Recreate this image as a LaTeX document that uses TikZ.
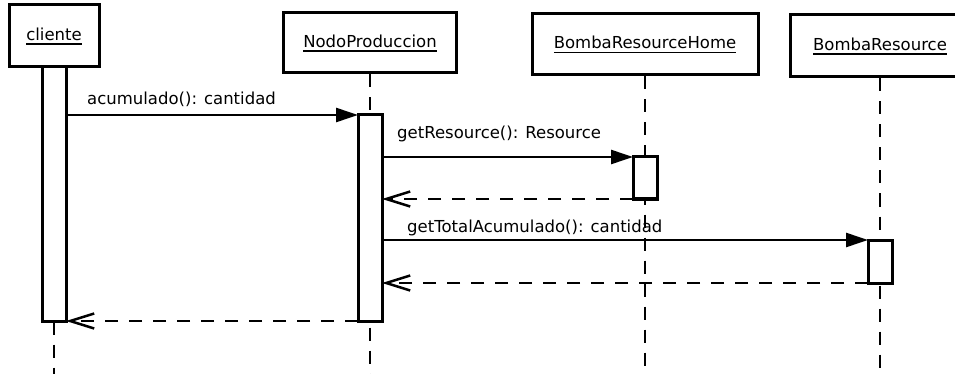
\documentclass[tikz,border=0pt]{standalone}
\usepackage{fontspec}
\setmainfont{DejaVu Sans}
\usetikzlibrary{arrows.meta}

% underlined object name
\newcommand{\objname}[1]{\setbox0=\hbox{#1}\copy0\llap{\rule[-4.5pt]{\wd0}{1.3pt}}}

\tikzset{
    objbox/.style={draw, line width=3pt, fill=white, inner sep=0pt},
    actbar/.style={draw, line width=3pt, fill=white, minimum width=24pt, inner sep=0pt, outer sep=0pt},
    lifeline/.style={line width=1.5pt, dash pattern=on 13pt off 10pt},
    call/.style={line width=2.5pt, -{Triangle[length=22pt,width=14pt]}},
    reply/.style={line width=2.5pt, dash pattern=on 13pt off 11pt, -{Straight Barb[length=24pt,width=15pt]}},
    msg/.style={anchor=base west, inner sep=0pt},
}

\begin{document}
\begin{tikzpicture}[x=1pt, y=-1pt, font=\fontsize{16.5}{20}\selectfont]
    \useasboundingbox (0,0) rectangle (955,374);
    \clip (0,0) rectangle (955,374);
    \coordinate (bottom) at (0,374);

    % Objetos
    \foreach \n/\x/\y/\w/\h/\t in {cliente/54/36/90/62/cliente,
        nodo/370/43/173/60/NodoProduccion,
        home/645/44.5/226/61/BombaResourceHome,
        bomba/880/46/180/62/BombaResource} {
        \node[objbox, minimum width=\w pt, minimum height=\h pt] (\n) at (\x,\y) {\objname{\t}};
        \draw[lifeline] (\n.south) -- (\n.south |- bottom);
    }

    % Activaciones
    \node[actbar, minimum height=254pt] (act1) at (54,194) {};
    \node[actbar, minimum height=206pt] (act2) at (370,218) {};
    \node[actbar, minimum height=42pt] (act3) at (645,178) {};
    \node[actbar, minimum height=43pt] (act4) at (880,261.5) {};

    % Mensajes
    \draw[call] (act1.east |- act2.north) -- (act2.north west);
    \draw[call] (act2.east |- act3.north) -- (act3.north west);
    \draw[reply] (act3.south west) -- (act2.east |- act3.south);
    \draw[call] (act2.east |- act4.north) -- (act4.north west);
    \draw[reply] (act4.south west) -- (act2.east |- act4.south);
    \draw[reply] (act2.south west) -- (act1.east |- act2.south);

    \node[msg] (m1) at (87,105) {acumulado(): cantidad};
    \node[msg] (m2) at (397,139) {getResource(): Resource};
    \node[msg] (m3) at (407,232) {getTotalAcumulado(): cantidad};
\end{tikzpicture}
\end{document}
